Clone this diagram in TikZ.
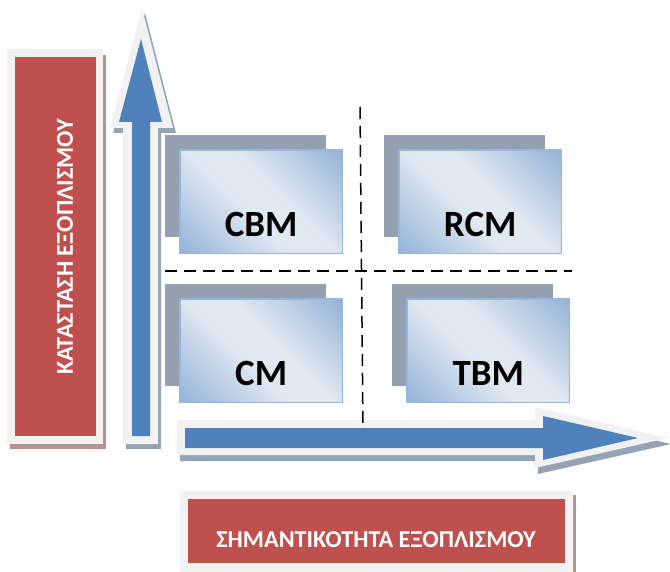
\documentclass[tikz,border=0pt]{standalone}
\usepackage{fontspec}
\setmainfont{Carlito}
\definecolor{redbox}{RGB}{192,80,77}
\definecolor{redshadow}{RGB}{185,145,145}
\definecolor{framegray}{RGB}{242,242,242}
\definecolor{arrowblue}{RGB}{79,129,189}
\definecolor{arrowshadow}{RGB}{148,163,182}
\definecolor{boxshadow}{RGB}{148,160,175}
\definecolor{boxdark}{RGB}{149,179,215}
\definecolor{boxlight}{RGB}{224,232,242}
\definecolor{boxborder}{RGB}{150,182,220}
\newcommand{\boxgradient}[1]{%
  \begin{scope}
    \clip (#1.north west) rectangle (#1.south east);
    \begin{scope}[shift={(#1.center)}, x={(0.7071pt,0.7071pt)}, y={(0.7071pt,-0.7071pt)}]
      \foreach \t in {-100,-96,...,96}{
        \pgfmathtruncatemacro{\pct}{max(0,min(100,(abs(\t+2)-16)/76*100))}
        \fill[boxdark!\pct!boxlight] (\t,-150) -- (\t+4.6,-150) -- (\t+4.6,150) -- (\t,150) -- cycle;
      }
    \end{scope}
  \end{scope}
  \draw[boxborder, line width=1.5pt] (#1.north west) rectangle (#1.south east);
}
\begin{document}
\begin{tikzpicture}[x=1pt,y=-1pt,
  backshadow/.style={fill=boxshadow},
  frontbox/.style={minimum width=162pt, minimum height=103pt, inner sep=0pt, anchor=north west},
  boxtext/.style={font=\bfseries\fontsize{37}{42}\selectfont, text=black, inner sep=0pt},
  labeltext/.style={font=\bfseries\fontsize{24.2}{28}\selectfont, text=white, inner sep=0pt},
  divider/.style={black, line width=1.5pt, dash pattern=on 12pt off 7pt}]
\useasboundingbox (0,0) rectangle (670,572);

% left label
\fill[redshadow] (10,55) rectangle (106,449);
\fill[framegray] (7,49) rectangle (103,444);
\fill[redbox] (15,57) rectangle (96,436);
\node[labeltext, rotate=90] (ylabel) at (65,247) {ΚΑΤΑΣΤΑΣΗ ΕΞΟΠΛΙΣΜΟΥ};

% vertical arrow
\fill[arrowshadow] (145,13) -- (176,133) -- (161,133) -- (161,449) -- (126,449) -- (126,133) -- (113,133) -- cycle;
\fill[framegray] (142,8) -- (173,128) -- (158,128) -- (158,444) -- (123,444) -- (123,128) -- (110,128) -- cycle;
\fill[arrowblue] (141,39) -- (162,122) -- (150,122) -- (150,436) -- (132,436) -- (132,122) -- (119,122) -- cycle;

% horizontal arrow
\fill[arrowshadow] (180,426) -- (538,426) -- (538,413) -- (671,444) -- (538,474) -- (538,461) -- (180,461) -- cycle;
\fill[framegray] (177,420) -- (535,420) -- (535,407) -- (668,438) -- (535,468) -- (535,455) -- (177,455) -- cycle;
\fill[arrowblue] (185,428) -- (543,428) -- (543,416) -- (638,438) -- (543,460) -- (543,448) -- (185,448) -- cycle;

% boxes
\fill[backshadow] (165,135) rectangle (326,237);
\node[frontbox] (cbm) at (180,150) {};
\boxgradient{cbm}
\node[boxtext] (cbmtext) at ([yshift=29pt]cbm.south) {CBM};

\fill[backshadow] (384,135) rectangle (545,237);
\node[frontbox] (rcm) at (399,150) {};
\boxgradient{rcm}
\node[boxtext] (rcmtext) at ([yshift=29pt]rcm.south) {RCM};

\fill[backshadow] (165,284) rectangle (326,386);
\node[frontbox] (cm) at (180,299) {};
\boxgradient{cm}
\node[boxtext] (cmtext) at ([yshift=29pt]cm.south) {CM};

\fill[backshadow] (392,284) rectangle (553,386);
\node[frontbox] (tbm) at (407,299) {};
\boxgradient{tbm}
\node[boxtext] (tbmtext) at ([yshift=29pt]tbm.south) {TBM};

% dividers
\coordinate (hl) at (165,271);
\coordinate (hr) at (572,271);
\coordinate (vt) at (360,107);
\coordinate (vb) at (363,430);
\draw[divider] (hl) -- (hr);
\draw[divider] (vt) -- (vb);

% bottom label
\fill[redshadow] (183,495) rectangle (576,575);
\fill[framegray] (180,491) rectangle (573,572);
\fill[redbox] (188,499) rectangle (565,563);
\node[labeltext] (xlabel) at (376,540) {ΣΗΜΑΝΤΙΚΟΤΗΤΑ ΕΞΟΠΛΙΣΜΟΥ};
\end{tikzpicture}
\end{document}
